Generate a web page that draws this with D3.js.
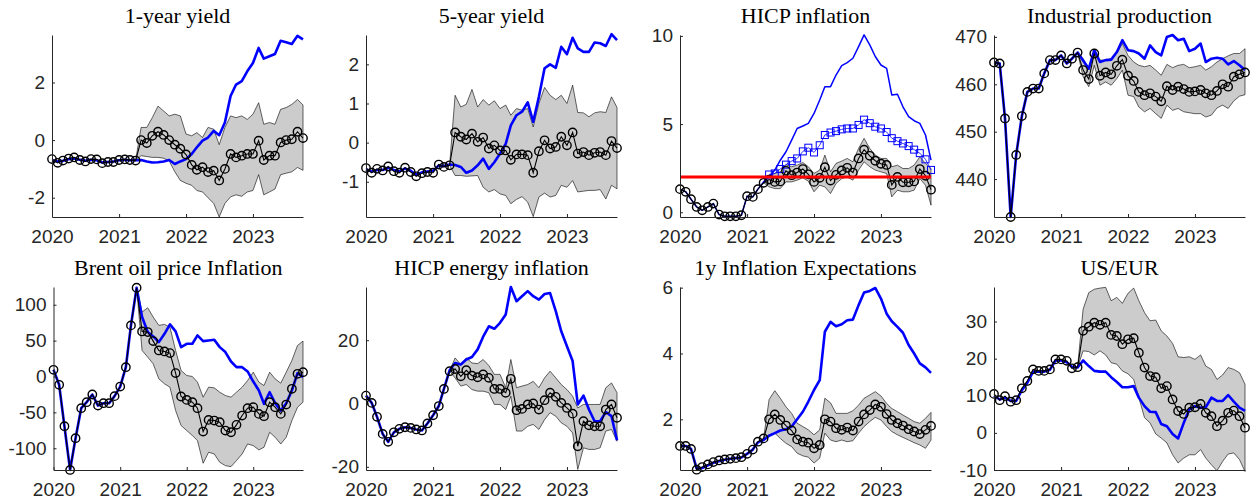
<!DOCTYPE html>
<html>
<head>
<meta charset="utf-8">
<script src="https://cdn.jsdelivr.net/npm/d3@7"></script>
<style>
  body { margin: 0; background: #fff; }
  .title { font-family: "Liberation Serif", "Times New Roman", serif; }
</style>
</head>
<body>
<div id="chart"></div>
<script>
// monthly, Jan 2020 .. Oct 2023 (46 points); bands start Apr 2021
var months = d3.timeMonth.range(new Date(2020, 0, 1), new Date(2023, 10, 1));
var bandStart = 15;
var yearTicks = [2020, 2021, 2022, 2023];
var titles = ["1-year yield", "5-year yield", "HICP inflation", "Industrial production",
              "Brent oil price Inflation", "HICP energy inflation", "1y Inflation Expectations", "US/EUR"];

// 1-year yield
var y1Black = [-0.66,-0.79,-0.71,-0.64,-0.6,-0.69,-0.74,-0.66,-0.67,-0.8,-0.76,-0.76,-0.69,-0.67,-0.69,-0.71,
  0.0,-0.1,0.15,0.29,0.18,0.0,-0.16,-0.3,-0.5,-0.86,-1.03,-0.94,-1.11,-1.06,-1.4,-1.0,-0.48,-0.6,-0.54,-0.48,-0.48,-0.02,-0.69,-0.54,-0.54,-0.08,0.0,0.03,0.29,0.07];
var y1Blue = [-0.7,-0.74,-0.72,-0.66,-0.64,-0.68,-0.72,-0.68,-0.7,-0.78,-0.76,-0.74,-0.7,-0.68,-0.7,-0.7,
  -0.69,-0.74,-0.78,-0.77,-0.74,-0.69,-0.83,-0.74,-0.66,-0.48,-0.25,-0.02,0.09,0.32,0.17,0.61,1.53,1.93,2.05,2.39,2.68,3.2,2.83,2.91,2.99,3.45,3.4,3.34,3.62,3.5];
var y1Lo = [-0.71,-0.54,-0.57,-0.6,-0.6,-0.63,-0.72,-1.1,-1.4,-1.5,-1.57,-1.75,-1.8,-2.0,-2.2,-2.67,-2.2,-1.97,-1.9,-1.95,-1.8,-1.75,-1.2,-1.9,-1.8,-1.7,-1.2,-1.15,-1.1,-0.95,-1.05];
var y1Hi = [-0.71,0.44,0.44,0.78,1.18,1.01,0.84,0.9,0.84,0.21,0.15,0.26,0.09,0.44,0.38,-0.16,0.44,0.84,0.78,0.84,0.72,0.9,1.3,0.55,0.61,0.55,1.07,1.13,1.24,1.41,1.22];

// 5-year yield
var y5Black = [-0.65,-0.77,-0.67,-0.71,-0.61,-0.73,-0.77,-0.64,-0.75,-0.86,-0.78,-0.75,-0.77,-0.56,-0.62,-0.58,
  0.26,0.15,0.08,0.23,0.02,0.13,-0.15,-0.07,-0.2,-0.2,-0.44,-0.3,-0.3,-0.32,-0.77,-0.22,0.06,-0.15,-0.11,0.15,-0.07,0.26,-0.28,-0.24,-0.32,-0.26,-0.24,-0.32,0.04,-0.14];
var y5Blue = [-0.68,-0.74,-0.7,-0.7,-0.64,-0.7,-0.74,-0.66,-0.72,-0.82,-0.76,-0.74,-0.72,-0.58,-0.6,-0.56,
  -0.57,-0.62,-0.77,-0.71,-0.58,-0.41,-0.67,-0.5,-0.28,-0.03,0.44,0.7,0.79,1.03,0.53,1.17,1.9,2.0,1.91,2.45,2.26,2.68,2.41,2.32,2.32,2.56,2.54,2.47,2.77,2.62];
var y5Lo = [-0.58,-0.84,-0.84,-0.86,-0.85,-0.84,-1.14,-1.26,-1.2,-1.31,-1.35,-1.56,-1.45,-1.38,-1.52,-1.89,-1.39,-1.29,-1.39,-1.35,-1.09,-1.14,-0.97,-1.26,-1.24,-1.22,-1.22,-1.2,-1.44,-1.09,-1.18];
var y5Hi = [-0.58,1.21,0.91,0.98,1.36,0.91,1.1,0.96,1.07,0.87,0.96,0.7,0.87,0.83,0.87,0.4,1.0,1.41,1.21,1.1,1.21,1.0,1.47,0.77,0.76,0.66,0.76,0.79,0.77,1.17,0.9];

// HICP inflation
var hicpBlack = [1.31,1.16,0.74,0.3,0.11,0.3,0.49,-0.13,-0.23,-0.23,-0.23,-0.17,0.91,0.87,1.31,1.67,
  1.85,1.72,1.75,2.35,2.1,2.25,2.45,2.15,1.72,1.95,2.55,1.8,2.12,2.37,2.52,2.25,3.05,3.55,3.2,2.92,2.75,2.68,1.55,2.0,1.7,1.7,1.75,2.45,2.07,1.28];
var hicpBlue = [1.31,1.16,0.74,0.3,0.11,0.3,0.49,-0.13,-0.23,-0.23,-0.23,-0.17,0.91,0.87,1.31,1.72,
  2.0,2.39,2.95,3.43,4.09,4.75,4.89,5.04,5.6,6.36,7.12,7.12,7.78,8.31,8.48,8.73,9.39,10.06,9.49,8.83,8.35,8.16,6.65,6.69,5.98,5.42,5.19,5.04,4.38,2.95];
var hicpSquares = [2.14,2.2,2.45,2.7,2.9,3.05,3.45,3.66,3.39,3.8,4.38,4.52,4.6,4.7,4.75,4.75,4.95,5.25,5.05,4.85,4.75,4.55,4.2,4.03,3.9,3.75,3.55,3.35,3.0,2.4];
var hicpLo = [1.67,1.44,1.34,1.34,1.72,1.72,1.82,1.95,1.76,1.16,1.53,1.44,1.06,1.63,1.91,2.0,1.82,2.39,2.86,2.58,2.39,2.29,2.2,0.87,1.25,1.16,1.16,1.25,1.91,1.53,0.4];
var hicpHi = [1.67,2.1,2.2,2.29,2.7,2.58,2.67,2.82,2.58,2.2,2.39,3.24,2.29,2.77,2.9,3.05,2.86,3.62,4.19,3.62,3.24,3.05,3.05,2.58,2.67,2.48,2.48,2.67,3.14,2.77,2.48];
var hicpTarget = 2;

// Industrial production
var ipBlack = [464.6,464.4,452.8,432.0,445.1,453.3,458.4,459.1,459.1,462.3,465.1,465.1,466.1,464.4,465.4,466.7,
  463.0,461.1,466.5,461.8,462.5,462.1,463.9,465.2,461.8,460.7,458.4,457.7,458.1,457.4,456.4,459.6,458.8,459.5,459.0,458.4,458.5,458.8,458.1,457.7,458.6,460.0,459.5,461.6,462.1,462.5];
var ipBlue = [464.6,464.4,452.8,432.0,445.1,453.3,458.4,459.1,459.1,462.3,465.1,465.1,466.1,464.4,465.4,466.7,
  465.0,463.3,467.2,464.7,465.1,465.2,466.8,469.3,467.2,467.0,466.5,465.4,468.2,466.8,466.1,470.0,470.4,469.3,469.6,467.0,467.5,468.6,464.7,465.4,465.6,465.4,464.2,464.9,464.0,463.0];
var ipLo = [466.7,461.6,459.5,464.0,459.8,460.5,459.8,461.2,463.0,457.7,457.4,455.2,454.2,454.9,453.8,452.8,455.6,454.5,454.9,454.2,454.0,453.8,453.8,453.1,453.5,455.0,455.6,454.9,456.5,457.5,457.8];
var ipHi = [466.7,465.4,463.3,467.2,465.1,465.1,465.4,466.5,468.6,466.1,464.7,464.0,463.7,464.0,463.0,461.9,464.2,463.5,464.0,464.2,463.5,463.7,464.0,463.0,463.7,464.7,465.4,466.0,466.5,466.5,467.5];

// Brent oil price inflation
var oilBlack = [9.3,-11.6,-69.3,-130.2,-86,-44.2,-35.8,-25.1,-40.5,-37.2,-37.2,-27.4,-14,13,71.2,123.7,
  62.8,61.9,49.3,36.3,34.9,32.6,4.7,-27.9,-32.6,-35.8,-44.2,-76.7,-60.5,-61.4,-63.7,-75.3,-77.7,-67.4,-54.4,-44.2,-42.8,-52.1,-55.3,-35.8,-42.8,-52.1,-39.1,-17.2,3.7,6];
var oilBlue = [9.3,-11.6,-69.3,-130.2,-86,-44.2,-35.8,-25.1,-40.5,-37.2,-37.2,-27.4,-14,13,71.2,123.7,
  82.8,61.9,55.8,47.9,59.5,72.6,62.8,40.9,45.6,45.6,57.2,49.3,50.2,51.2,40.9,34,20.9,13,13,7,-7,-19.5,-38.1,-21.9,-37.2,-47.4,-37.2,-19.5,4.7,-0.9];
var oilLo = [123.7,36.3,27,17.7,-3.3,-10.2,-14.9,-47.4,-68.4,-75.3,-82.3,-89.3,-120.9,-105.6,-107.9,-119.5,-124.2,-125.6,-117.2,-107.9,-94,-96.3,-102.3,-98.6,-77.7,-84.7,-94,-84.7,-61.4,-42.8,-35.8];
var oilHi = [123.7,89.8,95.8,82.8,71.2,72.6,68.8,36.3,8.4,1.4,0,-7.9,-28.8,-14.9,-15.8,-21.9,-26.5,-28.8,-21.9,-14.9,-5.6,6,-7.9,-12.6,6,-3.3,-9.3,6,22.3,43.3,49.3];

// HICP energy inflation
var enBlack = [2.5,0.2,-4.2,-9.6,-12.1,-9.1,-8,-7.5,-7.7,-8.2,-8.5,-6.3,-3.7,-0.8,4.6,10.2,
  10.9,8.6,10.5,8.8,8.3,9.2,8.1,4.6,4.6,3.4,7.8,-2.1,-1.7,-0.3,0,-1.9,1.05,3.4,2.1,0.2,-1.4,-3.2,-13.5,-5.6,-6.9,-7.2,-7.2,-1.9,-0.3,-4.5];
var enBlue = [2.5,0.2,-4.2,-9.6,-12.1,-9.1,-8,-7.5,-7.7,-8.2,-8.5,-6.3,-3.7,-0.8,4.6,10.5,
  12.8,12.3,13.9,14.7,17.1,21.1,24.4,23.6,25.5,28.1,36.8,32.3,33.9,35.5,33.9,32.8,34.6,34.9,29.2,22.8,18.1,13.4,-0.3,2.5,-1.9,-5.6,-5.6,-2.7,-4,-11.6];
var enLo = [10.2,8.1,5.5,6,4.4,3.9,3.9,3.4,-0.3,-0.3,-1.9,2.3,-8.7,-8.7,-7.2,-6.6,-8.2,-5.1,-2.9,-4,-6.1,-7.2,-9.3,-20.8,-14,-14.5,-14.5,-14,-8.7,-8.2,-11.9];
var enHi = [10.2,14.4,12.3,14.4,12.8,12.6,13.9,12,9.2,9.2,5,13.9,5,5.5,6,7,5,8.1,10.2,8.1,6,4.4,2.3,-1.4,-0.3,-0.3,-0.3,-0.3,5,6.5,3.4];

// 1y inflation expectations
var ieBlack = [1.19,1.19,1.1,0.47,0.55,0.63,0.7,0.75,0.78,0.8,0.82,0.85,0.95,1.08,1.32,1.42,
  2.0,2.15,1.98,1.81,1.66,1.39,1.32,1.29,1.12,1.22,2.0,1.93,1.73,1.68,1.75,1.66,1.93,2.15,2.28,2.45,2.38,2.16,1.98,1.88,1.81,1.7,1.63,1.55,1.68,1.8];
var ieBlue = [1.19,1.19,1.1,0.5,0.52,0.6,0.68,0.73,0.77,0.8,0.82,0.84,0.95,1.08,1.3,1.37,
  1.5,1.58,1.66,1.7,1.78,2.0,2.23,2.54,2.89,3.19,4.66,4.96,4.83,4.89,5.01,5.03,5.47,5.85,5.9,5.99,5.67,5.21,4.98,4.81,4.63,4.26,4.0,3.7,3.58,3.41];
var ieLo = [1.42,1.53,1.58,1.42,1.27,1.17,0.97,0.89,0.85,0.67,0.82,1.58,1.37,1.32,1.37,1.32,1.35,1.58,1.78,1.93,2.06,1.98,1.78,1.63,1.53,1.45,1.37,1.29,1.22,1.12,1.37];
var ieHi = [1.42,2.6,2.87,2.64,2.38,2.18,1.88,1.78,1.68,1.53,1.68,2.64,2.5,2.18,2.18,2.18,2.26,2.43,2.64,2.74,2.84,2.71,2.48,2.33,2.23,2.13,2.03,1.93,1.88,2.03,2.21];

// US/EUR
var fxBlack = [10.5,8.8,9.9,8.4,8.8,12,14,17.1,16.7,16.7,17.1,19.8,19.8,19.4,17.4,17.7,
  27.5,28.6,29.7,29.1,29.7,26.4,26.1,23.9,25.2,25.5,21.6,17.6,15.3,15,12,12.6,9,5.9,5.1,6.8,6.9,7.8,5.4,4.5,1.8,3.3,5.4,6,4.5,1.4];
var fxBlue = [10,9,9.5,8.6,8.6,11.5,13.5,16.5,16.5,16.5,17,19.5,19.5,19,17.8,17.6,
  19.5,18,16.7,16.5,16.5,15,13.7,12.3,12.3,12.6,9.5,7.2,5.7,5.6,2.4,1.8,-0.3,-1.5,2.7,6.3,7.2,6.8,6.9,9.5,8.6,8.6,10.2,8.4,6.8,5.9];
var fxLo = [17.7,22.1,21.9,21,22.1,21,18.9,18.5,16.7,15.9,14.4,9.5,4.1,2.7,-0.3,-1.4,-2.7,-5.9,-8.1,-6.8,-5.9,-5.9,-4.5,-6.8,-8.6,-10.2,-7.7,-5.7,-5.4,-7.2,-10.4];
var fxHi = [17.7,33.3,37.8,38.7,39,39.2,35.6,36.5,34.9,37.6,39,35.6,32.4,30.2,30.4,27.5,26.1,24.1,20.5,20.3,20.5,19.8,21,18,17.1,14.4,15.6,17.6,17.1,16.2,13.1];

var W = 1252, H = 500;
var svg = d3.select("#chart").append("svg")
    .attr("width", W)
    .attr("height", H);

var rows = [{top: 35, bottom: 217}, {top: 287, bottom: 470}];
var cols = [{left: 52, right: 303}, {left: 366, right: 617}, {left: 680, right: 931}, {left: 994, right: 1245}];

var panels = [
  {black: y1Black, blue: y1Blue, lo: y1Lo, hi: y1Hi, dom: [-2.67, 3.65], ticks: [-2, 0, 2]},
  {black: y5Black, blue: y5Blue, lo: y5Lo, hi: y5Hi, dom: [-1.9, 2.75], ticks: [-1, 0, 1, 2]},
  {black: hicpBlack, blue: hicpBlue, lo: hicpLo, hi: hicpHi, dom: [-0.27, 10.05], ticks: [0, 5, 10], squares: hicpSquares, target: hicpTarget},
  {black: ipBlack, blue: ipBlue, lo: ipLo, hi: ipHi, dom: [432, 470.4], ticks: [440, 450, 460, 470]},
  {black: oilBlack, blue: oilBlue, lo: oilLo, hi: oilHi, dom: [-130.3, 124.7], ticks: [-100, -50, 0, 50, 100]},
  {black: enBlack, blue: enBlue, lo: enLo, hi: enHi, dom: [-21, 36.8], ticks: [-20, 0, 20]},
  {black: ieBlack, blue: ieBlue, lo: ieLo, hi: ieHi, dom: [0.46, 6.02], ticks: [2, 4, 6]},
  {black: fxBlack, blue: fxBlue, lo: fxLo, hi: fxHi, dom: [-10, 39.3], ticks: [-10, 0, 10, 20, 30]}
];

panels.forEach(function(p, k) {
  var r = rows[Math.floor(k / 4)], c = cols[k % 4];
  var left = (k == 4) ? c.left + 1.5 : c.left;
  drawPanel(p, titles[k], left, c.right, r.top, r.bottom);
});

function drawPanel(p, title, left, right, top, bottom) {
  var g = svg.append("g");
  var x = d3.scaleTime().domain([months[0], months[months.length - 1]]).range([left, right]);
  var y = d3.scaleLinear().domain(p.dom).range([bottom, top]);

  // shaded band
  var band = d3.range(bandStart, months.length);
  g.append("path")
    .datum(band)
    .attr("d", d3.area()
      .x(function(i) { return x(months[i]); })
      .y0(function(i) { return y(p.lo[i - bandStart]); })
      .y1(function(i) { return y(p.hi[i - bandStart]); }))
    .attr("fill", "#cccccc")
    .attr("stroke", "#000")
    .attr("stroke-width", 0.6);

  var line = d3.line()
    .x(function(d, i) { return x(months[i]); })
    .y(function(d) { return y(d); });

  g.append("path")
    .datum(p.blue)
    .attr("d", line)
    .attr("fill", "none")
    .attr("stroke", "#0000ff")
    .attr("stroke-width", p.squares ? 1.5 : 2.6)
    .attr("stroke-linejoin", "round");

  if (p.squares) {
    var sqLine = d3.line()
      .x(function(d, i) { return x(months[i + 16]); })
      .y(function(d) { return y(d); });
    g.append("path")
      .datum(p.squares)
      .attr("d", sqLine)
      .attr("fill", "none")
      .attr("stroke", "#0000ff")
      .attr("stroke-width", 0.8);
    g.selectAll(".sq")
      .data(p.squares).enter()
      .append("rect")
      .attr("class", "sq")
      .attr("x", function(d, i) { return x(months[i + 16]) - 3.5; })
      .attr("y", function(d) { return y(d) - 3.5; })
      .attr("width", 7)
      .attr("height", 7)
      .attr("fill", "none")
      .attr("stroke", "#0000ff")
      .attr("stroke-width", 1);
  }

  g.append("path")
    .datum(p.black)
    .attr("d", line)
    .attr("fill", "none")
    .attr("stroke", "#000")
    .attr("stroke-width", 1.1);

  g.selectAll(".pt")
    .data(p.black).enter()
    .append("circle")
    .attr("class", "pt")
    .attr("cx", function(d, i) { return x(months[i]); })
    .attr("cy", function(d) { return y(d); })
    .attr("r", 4.2)
    .attr("fill", "none")
    .attr("stroke", "#000")
    .attr("stroke-width", 1.4);

  if (p.target !== undefined) {
    g.append("line")
      .attr("x1", left).attr("x2", right)
      .attr("y1", y(p.target)).attr("y2", y(p.target))
      .attr("stroke", "#ff0000")
      .attr("stroke-width", 3);
  }

  // axes (MATLAB style: ticks inside, hyphen minus)
  var xAxis = d3.axisBottom(x)
    .tickValues(yearTicks.map(function(yr) { return new Date(yr, 0, 1); }))
    .tickFormat(d3.timeFormat("%Y"))
    .tickSizeInner(-3).tickSizeOuter(0).tickPadding(13);
  var yAxis = d3.axisLeft(y)
    .tickValues(p.ticks)
    .tickFormat(function(d) { return String(d); })
    .tickSizeInner(-3).tickSizeOuter(0).tickPadding(7);

  [g.append("g").attr("transform", "translate(0," + bottom + ")").call(xAxis),
   g.append("g").attr("transform", "translate(" + left + ",0)").call(yAxis)].forEach(function(a) {
    a.attr("font-family", '"Liberation Sans", Arial, sans-serif').attr("font-size", "19px");
    a.selectAll("path, line").attr("stroke", "#262626");
    a.selectAll("text").attr("fill", "#262626");
  });

  g.append("text")
    .attr("class", "title")
    .attr("x", (left + right) / 2)
    .attr("y", top - 12.5)
    .attr("text-anchor", "middle")
    .attr("font-size", "22px")
    .attr("fill", "#000")
    .text(title);
}
</script>
</body>
</html>
